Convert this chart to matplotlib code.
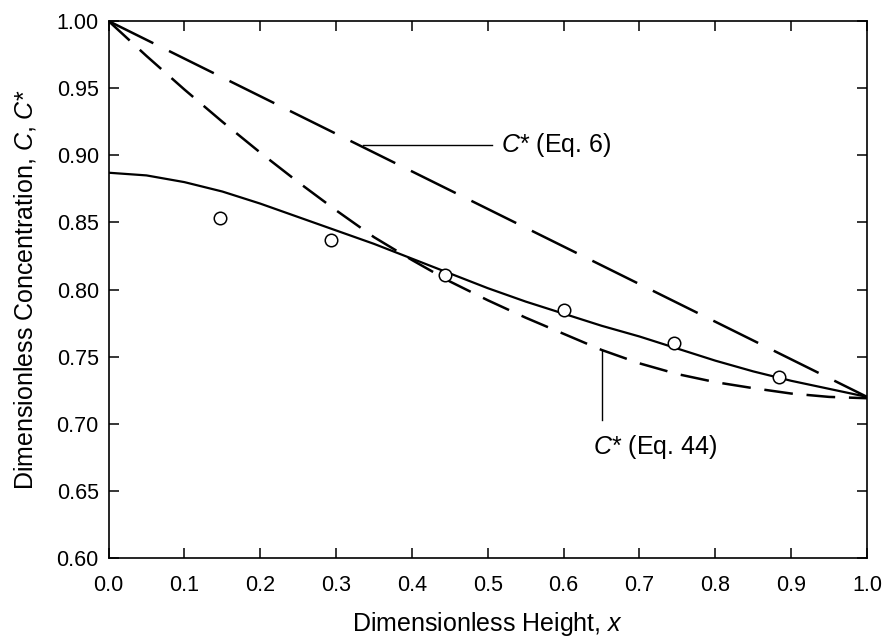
import matplotlib
matplotlib.use("Agg")
import matplotlib.pyplot as plt

plt.rcParams["font.family"] = ["Liberation Sans", "DejaVu Sans"]
plt.rcParams["mathtext.fontset"] = "custom"
plt.rcParams["mathtext.rm"] = "Liberation Sans"
plt.rcParams["mathtext.it"] = "Liberation Sans:italic"

# data

# measured concentration C (circles)
meas_x = [0.147, 0.293, 0.444, 0.600, 0.745, 0.884]
meas_c = [0.853, 0.837, 0.811, 0.785, 0.760, 0.735]

# solid curve (model C)
curve_x = [0.0, 0.05, 0.1, 0.15, 0.2, 0.25, 0.3, 0.35, 0.4, 0.45, 0.5,
           0.55, 0.6, 0.65, 0.7, 0.75, 0.8, 0.85, 0.9, 0.95, 1.0]
curve_c = [0.887, 0.885, 0.880, 0.873, 0.864, 0.854, 0.844, 0.834, 0.823,
           0.812, 0.801, 0.791, 0.782, 0.773, 0.765, 0.756, 0.747, 0.739,
           0.732, 0.726, 0.720]

# C* from Eq. 44 (medium dashes)
eq44_x = curve_x
eq44_c = [1.0, 0.974, 0.949, 0.925, 0.902, 0.880, 0.859, 0.839, 0.822,
          0.806, 0.792, 0.779, 0.767, 0.755, 0.745, 0.737, 0.731, 0.7265,
          0.7225, 0.720, 0.719]

# C* from Eq. 6 (long dashes)
eq6_x = [0.0, 0.25, 0.5, 0.75, 1.0]
eq6_c = [1.0, 0.930, 0.860, 0.790, 0.720]

xticks = [0.0, 0.1, 0.2, 0.3, 0.4, 0.5, 0.6, 0.7, 0.8, 0.9, 1.0]
yticks = [0.60, 0.65, 0.70, 0.75, 0.80, 0.85, 0.90, 0.95, 1.00]


fig = plt.figure(figsize=(8.83, 6.41), dpi=100)
ax = fig.add_axes([0.1229, 0.1295, 0.8590, 0.8377])

ax.plot(eq6_x, eq6_c, color="black", lw=1.8, dashes=(20, 7))
ax.plot(eq44_x, eq44_c, color="black", lw=1.8, dashes=(11.5, 5.5))
ax.plot(curve_x, curve_c, color="black", lw=1.6)
ax.plot(meas_x, meas_c, "o", ms=9, mfc="white", mec="black", mew=1.1)

# annotations
ax.plot([0.336, 0.505], [0.9075, 0.9075], color="black", lw=1.0)
ax.text(0.518, 0.9075, "$C$* (Eq. 6)", fontsize=18, va="center", ha="left")
ax.plot([0.650, 0.650], [0.7547, 0.7026], color="black", lw=1.0)
ax.text(0.639, 0.6826, "$C$* (Eq. 44)", fontsize=18, va="center", ha="left")

ax.set_xlim(0, 1)
ax.set_ylim(0.6, 1.0)
ax.set_xticks(xticks)
ax.set_yticks(yticks)
ax.set_xticklabels(["%.1f" % v for v in xticks])
ax.set_yticklabels(["%.2f" % v for v in yticks])
ax.tick_params(direction="in", top=True, right=True, length=7, width=1.1,
               labelsize=15.5)
ax.tick_params(axis="x", pad=12)
ax.tick_params(axis="y", pad=7)
for s in ax.spines.values():
    s.set_linewidth(1.2)

ax.set_xlabel("Dimensionless Height, $x$", fontsize=18, labelpad=10)
ax.set_ylabel("Dimensionless Concentration, $C$, $C$*", fontsize=18,
              labelpad=13)

fig.savefig("out.png", dpi=100)
